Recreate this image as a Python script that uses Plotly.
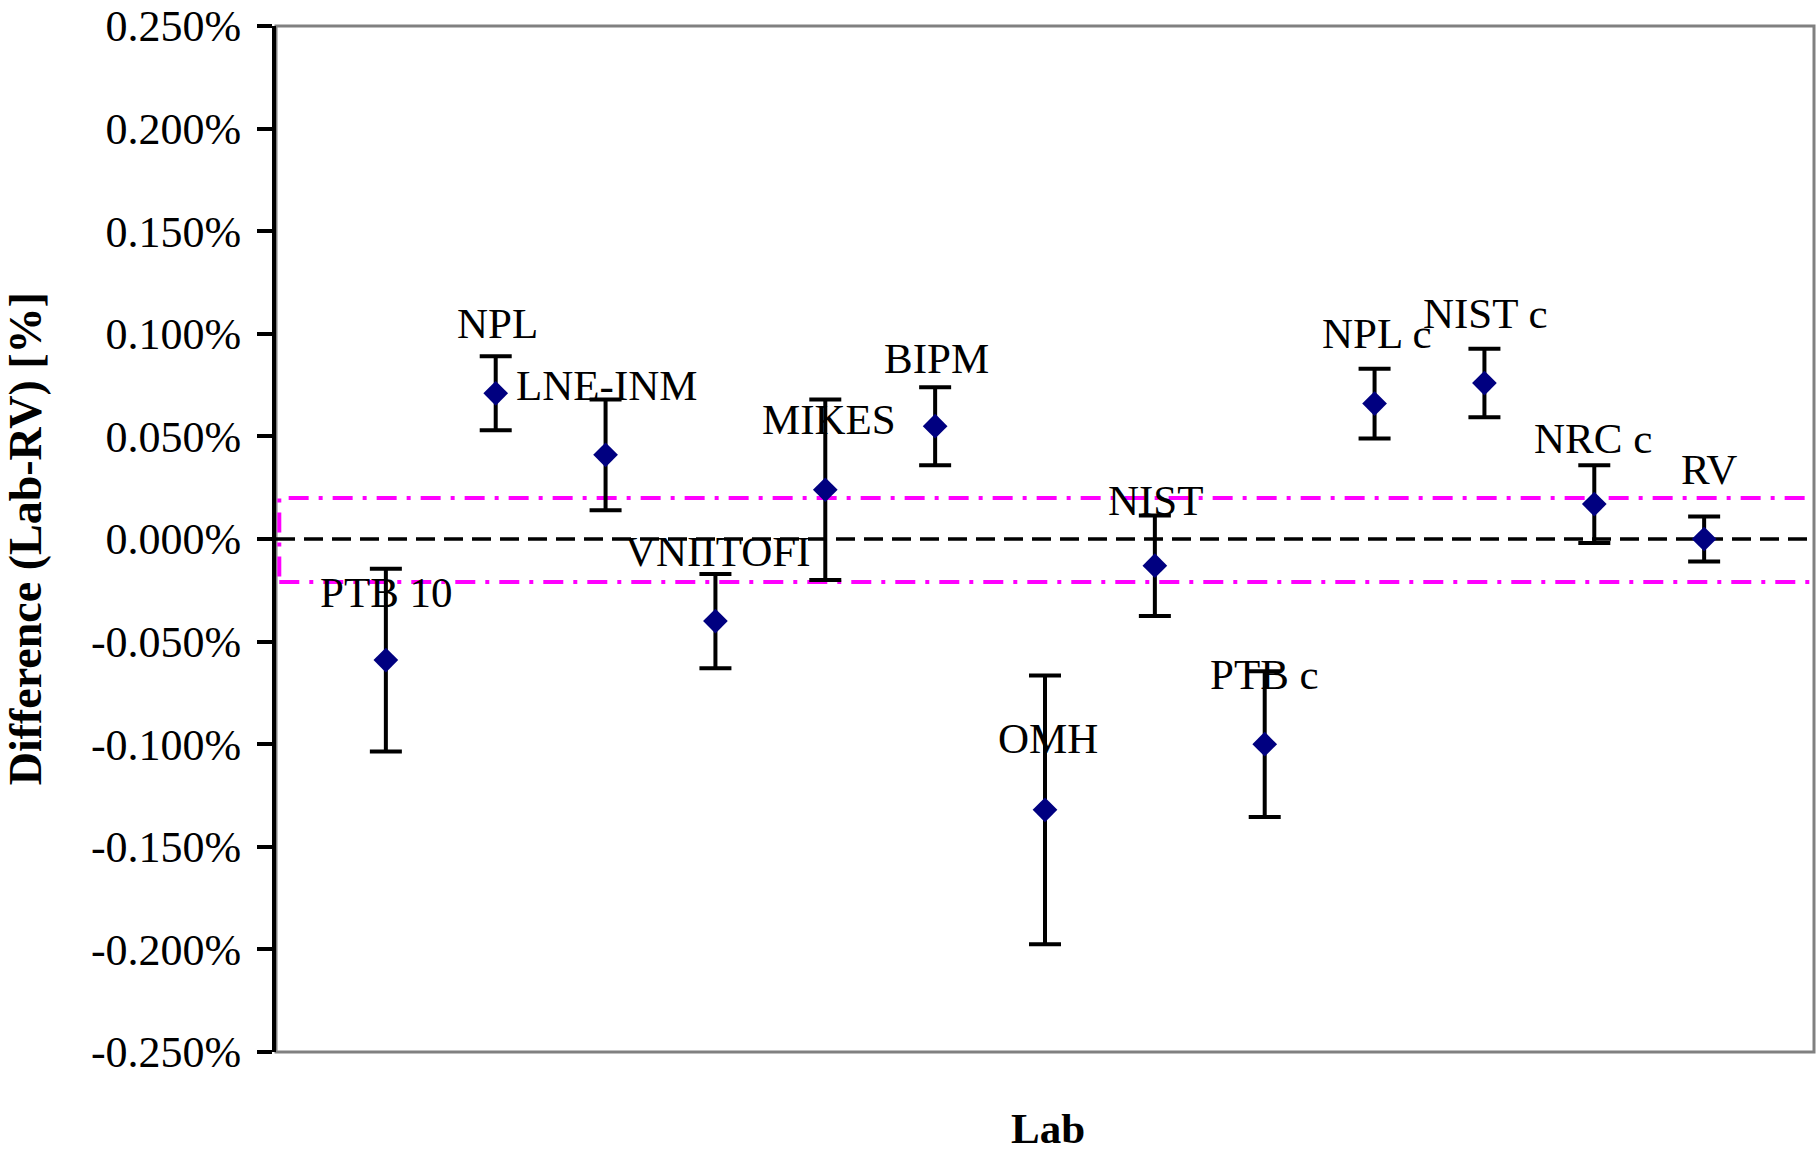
import plotly.graph_objects as go

# ---- data ----
labs = ["PTB 10", "NPL", "LNE-INM", "VNIITOFI", "MIKES", "BIPM", "OMH",
        "NIST", "PTB c", "NPL c", "NIST c", "NRC c", "RV"]
lab_x = [1, 2, 3, 4, 5, 6, 7, 8, 9, 10, 11, 12, 13]
diff = [-0.059, 0.071, 0.041, -0.040, 0.024, 0.055, -0.132,
        -0.013, -0.100, 0.066, 0.076, 0.017, 0.000]
unc = [0.0445, 0.018, 0.027, 0.023, 0.044, 0.019, 0.0655,
       0.0245, 0.0355, 0.017, 0.0167, 0.019, 0.011]
label_x = [1.01, 2.02, 3.01, 4.02, 5.03, 6.01, 7.03, 8.01, 9.00, 10.02, 11.01, 11.99, 13.04]
label_y = [-0.026, 0.105, 0.075, -0.006, 0.058, 0.088, -0.097, 0.019, -0.066, 0.100, 0.110, 0.049, 0.034]
band_hi = 0.020
band_lo = -0.021
tick_vals = [0.25, 0.20, 0.15, 0.10, 0.05, 0.0, -0.05, -0.10, -0.15, -0.20, -0.25]
tick_text = ["0.250%", "0.200%", "0.150%", "0.100%", "0.050%", "0.000%",
             "-0.050%", "-0.100%", "-0.150%", "-0.200%", "-0.250%"]

FONT = "Liberation Serif, Times New Roman, serif"
FS = 43

fig = go.Figure()
fig.add_trace(go.Scatter(
    x=lab_x, y=diff, mode="markers",
    marker=dict(symbol="diamond", size=19, color="#000080", line=dict(width=0)),
    error_y=dict(type="data", array=unc, visible=True, color="black",
                 thickness=4, width=16),
    showlegend=False, cliponaxis=False,
))

shapes = [
    # plot frame (gray)
    dict(type="rect", xref="paper", yref="paper", x0=0, x1=1, y0=0, y1=1,
         line=dict(color="#808080", width=3), layer="below"),
    # zero dashed line
    dict(type="line", xref="paper", yref="y", x0=0, x1=1, y0=0, y1=0,
         line=dict(color="black", width=3.5, dash="19px,9px"), layer="below"),
    # magenta acceptance band
    dict(type="rect", xref="x", yref="y", x0=0.03, x1=14.6, y0=band_lo, y1=band_hi,
         line=dict(color="#FF00FF", width=4, dash="20px,10px,4px,10px"), layer="below"),
]

annotations = []
for name, lx, ly in zip(labs, label_x, label_y):
    annotations.append(dict(x=lx, y=ly, xref="x", yref="y", text=name,
                            showarrow=False, xanchor="center", yanchor="middle",
                            font=dict(family=FONT, size=FS, color="black")))
annotations.append(dict(x=-0.163, y=0.5, xref="paper", yref="paper",
                        text="<b>Difference (Lab-RV) [%]</b>", textangle=-90,
                        showarrow=False, xanchor="center", yanchor="middle",
                        font=dict(family=FONT, size=46, color="black")))
annotations.append(dict(x=0.502, y=-0.075, xref="paper", yref="paper",
                        text="<b>Lab</b>", showarrow=False,
                        xanchor="center", yanchor="middle",
                        font=dict(family=FONT, size=FS, color="black")))

fig.update_layout(
    width=1816, height=1149,
    margin=dict(l=276, r=2, t=24, b=97),
    paper_bgcolor="white", plot_bgcolor="white",
    shapes=shapes, annotations=annotations,
    xaxis=dict(range=[0, 14], showgrid=False, zeroline=False, showticklabels=False,
               ticks="", showline=False),
    yaxis=dict(range=[-0.25, 0.25], tickvals=tick_vals, ticktext=tick_text,
               showgrid=False, zeroline=False, showline=True, linecolor="black",
               linewidth=4, ticks="outside", ticklen=15, tickwidth=3.5,
               tickcolor="black", ticklabelstandoff=7,
               tickfont=dict(family=FONT, size=44, color="black")),
    font=dict(family=FONT, color="black"),
)

fig.write_html("out.html")
